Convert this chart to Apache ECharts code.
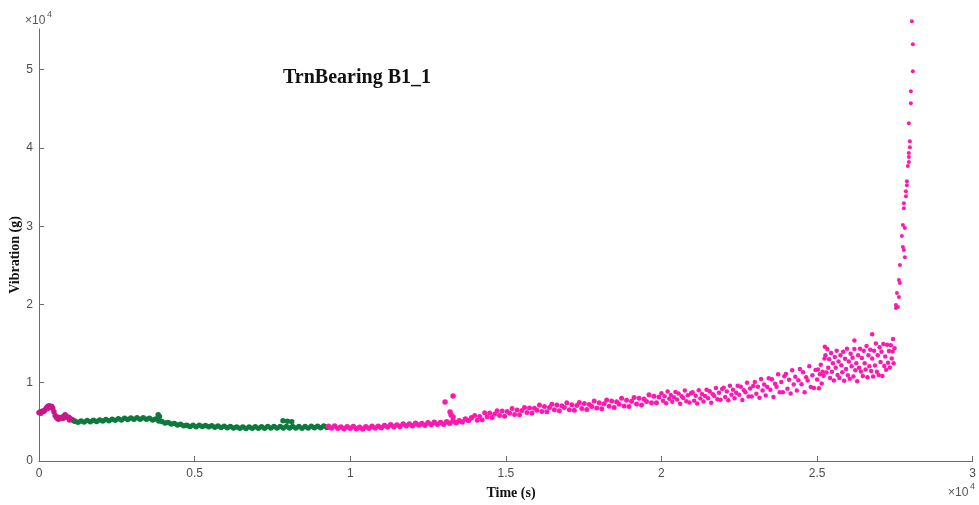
<!DOCTYPE html>
<html>
<head>
<meta charset="utf-8">
<title>TrnBearing B1_1</title>
<script src="https://cdn.jsdelivr.net/npm/echarts@6/dist/echarts.min.js"></script>
<style>
  html, body { margin: 0; padding: 0; background: #fff; }
  #chart { width: 979px; height: 505px; }
</style>
</head>
<body>
<div id="chart"></div>
<script>
// Tick positions (raw units; labels are shown in units of 10^4)
const xTicks = [0, 5000, 10000, 15000, 20000, 25000, 30000];
const yTicks = [0, 10000, 20000, 30000, 40000, 50000];

// Run-in phase [time s, vibration g]
const runIn = [
  [0,6150],[40,6300],[60,6100],[80,6250],[120,6400],[160,6350],[200,6550],[240,6800],
  [280,6950],[300,6750],[320,7050],[360,6900],[400,7000],[420,6850],[440,6750],[480,6300],
  [520,5800],[560,5550],[600,5450],[620,5350],[640,5600],[680,5500],[720,5450],[760,5600],
  [780,5450],[800,5750],[840,5900],[880,5700],[920,5550],[960,5600],[980,5250],[1000,5400],
  [1040,5350],[1080,5250],[1120,5150]
];

// Steady-state phase
const steady = [
  [1150,5080],[1250,4950],[1350,5120],[1450,4980],[1550,5170],[1650,5010],[1750,5200],[1850,5060],
  [1950,5250],[2050,5100],[2150,5290],[2250,5140],[2350,5330],[2450,5200],[2550,5400],[2650,5230],
  [2750,5450],[2850,5290],[2950,5480],[3050,5330],[3150,5520],[3250,5350],[3350,5540],[3450,5330],
  [3550,5460],[3650,5250],[3750,5360],[3850,5120],[3950,5060],[4050,4850],[4150,4920],[4250,4720],
  [4350,4800],[4450,4600],[4550,4700],[4650,4500],[4750,4580],[4850,4400],[4950,4560],[5050,4390],
  [5150,4570],[5250,4410],[5350,4540],[5450,4380],[5550,4520],[5650,4320],[5750,4460],[5850,4280],
  [5950,4430],[6050,4250],[6150,4400],[6250,4210],[6350,4360],[6450,4170],[6550,4340],[6650,4160],
  [6750,4350],[6850,4180],[6950,4370],[7050,4190],[7150,4380],[7250,4200],[7350,4400],[7450,4210],
  [7550,4410],[7650,4220],[7750,4420],[7850,4230],[7950,4420],[8050,4220],[8150,4410],[8250,4210],
  [8350,4400],[8450,4200],[8550,4410],[8650,4220],[8750,4430],[8850,4240],[8950,4450],[9050,4260],
  [9150,4470],[9250,4280],
  [3830,5900],[3870,5700],[7840,5150],[7980,5080],[8120,5000]
];

// Degradation phase, early part
const wearEarly = [
  [9300,4450],[9400,4210],[9500,4460],[9600,4200],[9700,4350],[9800,4130],[9900,4380],[10000,4170],
  [10100,4400],[10200,4120],[10300,4300],[10400,4100],[10500,4380],[10600,4190],[10700,4450],[10800,4220],
  [10900,4450],[11000,4250],[11100,4550],[11200,4360],[11300,4640],[11400,4390],[11500,4610],[11600,4420],
  [11700,4730],[11800,4520],[11900,4730],[12000,4510],[12100,4820],[12200,4590],[12300,4790],[12400,4580],
  [12500,4880],[12600,4670],[12700,4940],[12800,4690],[12900,4920],[13000,4700],[13100,5030],[13200,4830],
  [13300,5120],[13400,4890],[13500,5150],[13600,4980],[13700,5360],[13800,5190],[13900,5520],
  [13048,7530],[13304,8300],[13208,6260],[13240,5870],[13304,5620]
];

// Degradation phase, middle part
const wearMid = [
  [14000,5800],[14080,5220],[14160,5690],[14240,5260],[14320,6160],[14400,5660],[14480,6130],[14560,5550],
  [14640,6020],[14720,6410],[14800,5800],[14880,6390],[14960,5710],[15040,6320],[15120,6110],[15200,6700],
  [15280,5940],[15360,6530],[15440,5920],[15520,6460],[15600,6830],[15680,6210],[15760,6780],[15840,6120],
  [15920,6730],[16000,6500],[16080,7160],[16160,6330],[16240,6960],[16320,6290],[16400,6850],[16480,7250],
  [16560,6560],[16640,7170],[16720,6430],[16800,7070],[16880,6840],[16960,7450],[17040,6560],[17120,7200],
  [17200,6470],[17280,7090],[17360,7470],[17440,6720],[17520,7350],[17600,6580],[17680,7220],[17760,6950],
  [17840,7670],[17920,6760],[18000,7450],[18080,6680],[18160,7320],[18240,7780],[18320,6980],[18400,7680],
  [18480,6840],[18560,7570],[18640,7240],[18720,8020],[18800,7040],[18880,7770],[18960,6960],[19040,7650],
  [19120,8100],[19200,7280],[19280,8010],[19360,7160],[19440,7930],[19520,7590],[19600,8450],[19680,7450],
  [19760,8270],[19840,7440],[19920,8180]
];

// Degradation phase, late part
const wearLate = [
  [20000,8660],[20050,7700],[20100,8270],[20150,7390],[20200,8870],[20250,7950],[20300,8440],[20350,7560],
  [20400,8140],[20450,8830],[20500,7850],[20550,8620],[20600,7300],[20650,8280],[20700,8060],[20750,9000],
  [20800,7640],[20850,8410],[20900,7470],[20950,8660],[21000,8780],[21050,7710],[21100,8350],[21150,7360],
  [21200,9030],[21250,7990],[21300,8560],[21350,7600],[21400,8310],[21450,9090],[21500,8020],[21550,8900],
  [21600,7430],[21650,8520],[21700,8300],[21750,9330],[21800,7880],[21850,8730],[21900,7840],[21950,9190],
  [22000,9350],[22050,8170],[22100,8870],[22150,7770],[22200,9620],[22250,8480],[22300,9100],[22350,8010],
  [22400,8730],[22450,9600],[22500,8460],[22550,9480],[22600,7780],[22650,9050],[22700,8800],[22750,10000],
  [22800,8250],[22850,9250],[22900,8250],[22950,9570],[23000,10110],[23050,8590],[23100,9500],[23150,8070],
  [23200,10480],[23250,9000],[23300,9780],[23350,8370],[23400,9440],[23450,10570],[23500,9090],[23550,10440],
  [23600,8190],[23650,9860],[23700,9500],[23750,11100],[23800,8770],[23850,10080],[23900,8780],[23950,10840],
  [24000,11120],[24050,9240],[24100,10380],[24150,8620],[24200,11600],[24250,9760],[24300,10760],[24350,9020],
  [24400,10320],[24450,11760],[24500,9820],[24550,11350],[24600,8780],[24650,10700],[24700,10280],[24750,12100],
  [24800,9470],[24850,10960],[24900,9330],[24950,11640]
];

// Pre-failure plateau
const preFailure = [
  [25000,10400],[25030,11700],[25060,9300],[25090,11100],[25120,12300],[25150,9900],[25180,11400],[25210,10900],
  [25240,13100],[25270,13500],[25300,11300],[25330,14300],[25360,11900],[25390,13000],[25420,10600],[25450,13800],
  [25480,11400],[25510,12500],[25540,10300],[25570,13300],[25600,11900],[25630,14100],[25660,11000],[25690,12700],
  [25720,10600],[25750,13500],[25780,12250],[25810,11350],[25840,13950],[25870,10250],[25900,13050],[25930,11750],
  [25960,14350],[25990,10950],[26020,12700],[26050,10500],[26080,13700],[26110,12100],[26140,13200],[26170,10800],
  [26200,14300],[26230,11600],[26260,12500],[26290,10200],[26320,13500],[26350,11900],[26380,14350],[26410,11450],
  [26440,13150],[26470,10850],[26500,14100],[26530,12500],[26560,11700],[26590,14700],[26620,10700],[26650,13500],
  [26680,12100],[26710,14200],[26740,11500],[26770,13100],[26800,10800],[26830,14100],[26860,12200],[26890,15000],
  [26920,11400],[26950,13500],[26980,11000],[27010,14550],[27040,12650],[27070,13950],[27100,10850],[27130,14950],
  [27160,12150],[27190,13350],[27220,11650],[27250,14850],[27280,12550],[27310,14050],[27340,11950],[27370,14800],
  [27400,13100],[27430,14000],[27460,12500],[27490,14400],
  [25250,14600],[26200,15400],[26770,16200],[27440,15600]
];

// Failure
const failure = [
  [27534,19540],[27534,19920],[27598,19670],[27630,20950],[27566,21460],[27662,22730],[27630,23120],[27662,25030],
  [27822,26050],[27790,26950],[27758,27330],[27726,28740],[27822,29760],[27758,30140],[27790,32310],[27790,32950],
  [27854,33840],[27854,34480],[27886,35250],[27886,35760],[27918,37680],[27950,38190],[27950,38830],[27950,39340],
  [27982,40100],[27982,40870],[27950,43170],[28014,45720],[28014,47250],[28078,49810],[28078,53260],[28046,56190]
];

const PINK = '#ff18b0';
const RUNIN = '#c8168a';
const GREEN = '#0b7a3c';

const tickFont = { color: '#4d4d4d', fontSize: 12, fontFamily: '"Liberation Sans", Arial, sans-serif' };
const axisGray = '#6b6b6b';

function dots(data, color, size, clip) {
  return {
    type: 'scatter',
    data: data,
    symbol: 'circle',
    symbolSize: size,
    clip: clip,
    itemStyle: { color: color, opacity: 1 },
    emphasis: { disabled: true },
    silent: true
  };
}

const chart = echarts.init(document.getElementById('chart'), null, { renderer: 'canvas' });

chart.setOption({
  animation: false,
  backgroundColor: '#ffffff',
  grid: { left: 39, right: 2, top: 29, bottom: 44, containLabel: false },
  xAxis: {
    type: 'value',
    min: 0,
    max: 30000,
    interval: 5000,
    axisLine: { show: true, lineStyle: { color: axisGray, width: 1 } },
    axisTick: { show: true, inside: true, length: 5, lineStyle: { color: axisGray }, customValues: xTicks },
    axisLabel: Object.assign({ margin: 7, customValues: xTicks, formatter: v => String(v / 10000) }, tickFont),
    splitLine: { show: false }
  },
  yAxis: {
    type: 'value',
    min: 0,
    max: 55200,
    axisLine: { show: true, lineStyle: { color: axisGray, width: 1 } },
    axisTick: { show: true, inside: true, length: 5, lineStyle: { color: axisGray }, customValues: yTicks },
    axisLabel: Object.assign({ margin: 6, customValues: yTicks, formatter: v => String(v / 10000) }, tickFont),
    splitLine: { show: false }
  },
  series: [
    dots(runIn, RUNIN, 5.5, true),
    dots(steady, GREEN, 5.5, true),
    dots(wearEarly, PINK, 5.5, true),
    dots(wearMid, PINK, 5, true),
    dots(wearLate, PINK, 4.5, true),
    dots(preFailure, PINK, 4.5, true),
    dots(failure, PINK, 4, false)
  ],
  graphic: [
    {
      type: 'text', left: 283, top: 68,
      style: { text: 'TrnBearing B1_1', font: 'bold 20px "Liberation Serif", serif', fill: '#111' }
    },
    {
      type: 'text', x: 15, y: 255, rotation: Math.PI / 2,
      style: { text: 'Vibration (g)', font: 'bold 14px "Liberation Serif", serif', fill: '#111', align: 'center', verticalAlign: 'middle' }
    },
    {
      type: 'text', x: 511, y: 493,
      style: { text: 'Time (s)', font: 'bold 14px "Liberation Serif", serif', fill: '#111', align: 'center', verticalAlign: 'middle' }
    },
    // exponent markers
    { type: 'text', x: 25, y: 21, style: { text: '×10', font: '12px "Liberation Sans", Arial, sans-serif', fill: '#555', verticalAlign: 'middle' } },
    { type: 'text', x: 47, y: 15, style: { text: '4', font: '9px "Liberation Sans", Arial, sans-serif', fill: '#555', verticalAlign: 'middle' } },
    { type: 'text', x: 948, y: 493, style: { text: '×10', font: '12px "Liberation Sans", Arial, sans-serif', fill: '#555', verticalAlign: 'middle' } },
    { type: 'text', x: 970, y: 487, style: { text: '4', font: '9px "Liberation Sans", Arial, sans-serif', fill: '#555', verticalAlign: 'middle' } }
  ]
});
</script>
</body>
</html>
